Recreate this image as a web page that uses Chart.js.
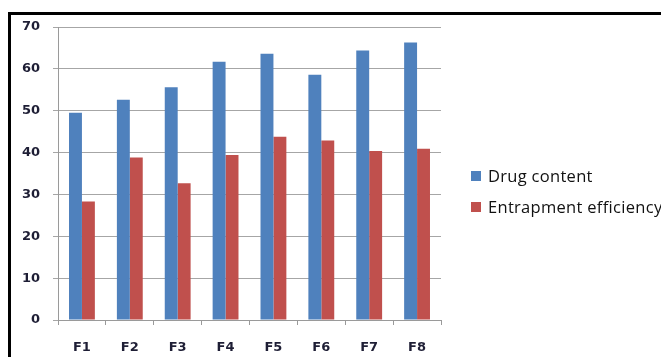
<!DOCTYPE html>
<html>
<head>
<meta charset="utf-8">
<script src="https://cdn.jsdelivr.net/npm/chart.js@4/dist/chart.umd.min.js"></script>
<style>
  html, body { margin: 0; padding: 0; background: #fff; }
  #wrap { position: relative; width: 661px; height: 357px; overflow: hidden; }
  #frame { position: absolute; left: 8px; top: 12px; width: 700px; height: 400px;
           border-top: 3px solid #000; border-left: 3px solid #000; box-sizing: border-box; }
  canvas { position: absolute; left: 0; top: 0; }
</style>
</head>
<body>
<div id="wrap">
  <div id="frame"></div>
  <canvas id="c" width="661" height="357"></canvas>
</div>
<script>
// Formulations and their measured values (%)
const formulations = ['F1', 'F2', 'F3', 'F4', 'F5', 'F6', 'F7', 'F8'];
const drugContent = [49.5, 52.6, 55.6, 61.7, 63.6, 58.6, 64.4, 66.3];
const entrapmentEfficiency = [28.3, 38.8, 32.7, 39.4, 43.8, 42.9, 40.4, 40.9];
const seriesNames = ['Drug content', 'Entrapment efficiency'];
const seriesColors = ['#4f81bd', '#c0504d'];

// Legend drawn to the right of the plot, one row per series
const sideLegend = {
  id: 'sideLegend',
  afterDraw(chart) {
    const ctx = chart.ctx;
    ctx.save();
    ctx.font = '16.5px "Open Sans"';
    ctx.letterSpacing = '0.3px';
    ctx.textBaseline = 'middle';
    const rows = [176, 207];
    chart.data.datasets.forEach((ds, i) => {
      const y = rows[i];
      ctx.fillStyle = ds.backgroundColor;
      ctx.fillRect(471, y - 5, 10, 10);
      ctx.fillStyle = '#111';
      ctx.fillText(ds.label, 488, y + 1);
    });
    ctx.restore();
  }
};

const tickFont = { family: '"DejaVu Sans"', size: 13, weight: 'bold' };

new Chart(document.getElementById('c'), {
  type: 'bar',
  data: {
    labels: formulations,
    datasets: [
      { label: seriesNames[0], data: drugContent, backgroundColor: seriesColors[0] },
      { label: seriesNames[1], data: entrapmentEfficiency, backgroundColor: seriesColors[1] }
    ]
  },
  options: {
    responsive: false,
    animation: false,
    layout: { padding: { top: 27, right: 220, bottom: 0, left: 0 } },
    plugins: { legend: { display: false }, tooltip: { enabled: false } },
    datasets: { bar: { categoryPercentage: 0.54, barPercentage: 1.0 } },
    scales: {
      x: {
        grid: { drawOnChartArea: false, drawTicks: true, tickLength: 5, color: '#9a9a9a', offset: true },
        border: { color: '#9a9a9a' },
        ticks: { font: tickFont, color: '#1e1e35', padding: 15 },
        afterFit(s) { s.height = 37; }
      },
      y: {
        min: 0, max: 70,
        ticks: { stepSize: 10, font: tickFont, color: '#1e1e35', padding: 13 },
        grid: { color: '#a6a6a6', tickLength: 5 },
        border: { color: '#9a9a9a' },
        afterFit(s) { s.width = 58; }
      }
    }
  },
  plugins: [sideLegend]
});
</script>
</body>
</html>
